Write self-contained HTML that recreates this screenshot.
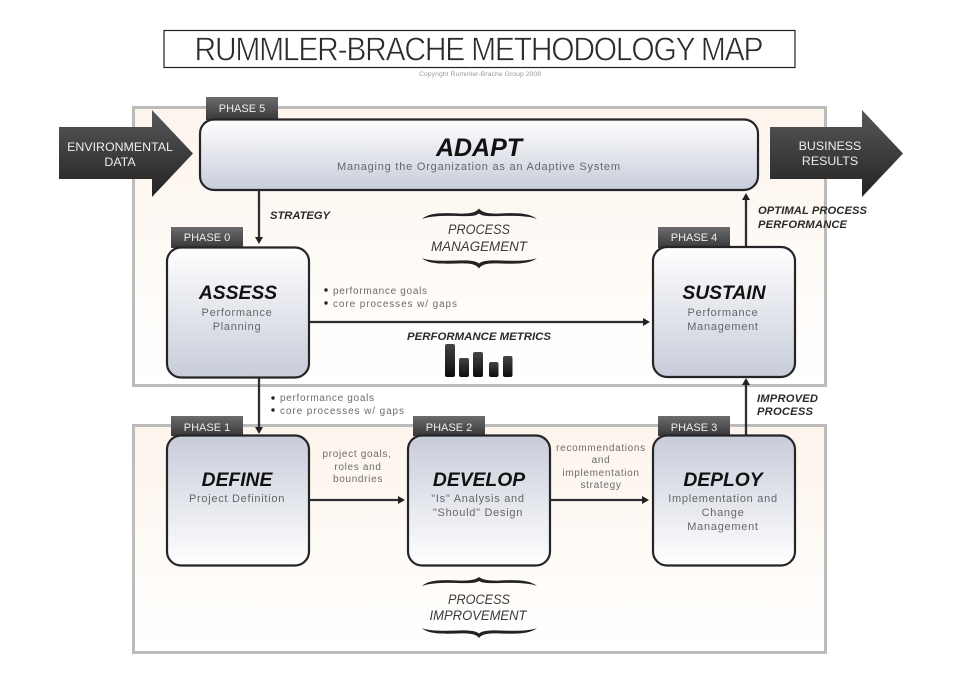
<!DOCTYPE html>
<html><head><meta charset="utf-8"><style>
html,body{margin:0;padding:0;background:#fff}
svg{display:block}
text{font-family:"Liberation Sans",sans-serif}
.sub{font-size:11px;fill:#666668;text-anchor:middle;letter-spacing:.72px}
.head{font-size:19.3px;font-weight:bold;font-style:italic;fill:#111;text-anchor:middle}
.ph{font-size:11px;fill:#eee;text-anchor:middle}
.lab{font-size:11.2px;font-weight:bold;font-style:italic;fill:#2a2a2a}
.note{font-size:10px;fill:#6c6c6c}
.notem{font-size:10px;fill:#6c6c6c;text-anchor:middle;letter-spacing:.68px}
.brace{font-size:13.5px;font-style:italic;fill:#3c3c3c;text-anchor:middle}
.ar{font-size:12.4px;fill:#eee;text-anchor:middle}
</style></head><body>
<svg width="960" height="680" viewBox="0 0 960 680" xmlns="http://www.w3.org/2000/svg">
<defs>
<linearGradient id="up" x1="0" y1="0" x2="0" y2="1"><stop offset="0" stop-color="#ffffff"/><stop offset="1" stop-color="#c7ccd9"/></linearGradient>
<linearGradient id="dn" x1="0" y1="0" x2="0" y2="1"><stop offset="0" stop-color="#c7ccd9"/><stop offset="1" stop-color="#ffffff"/></linearGradient>
<linearGradient id="pan" x1="0" y1="0" x2="0" y2="1"><stop offset="0" stop-color="#fdf4ec"/><stop offset="0.8" stop-color="#fffdfb"/><stop offset="1" stop-color="#ffffff"/></linearGradient>
<linearGradient id="tab" x1="0" y1="0" x2="0" y2="1"><stop offset="0" stop-color="#6c6c6e"/><stop offset="1" stop-color="#38383a"/></linearGradient>
<linearGradient id="arw" x1="0" y1="0" x2="0" y2="1"><stop offset="0" stop-color="#58585a"/><stop offset="1" stop-color="#232324"/></linearGradient>
<linearGradient id="bar" x1="0" y1="0" x2="0" y2="1"><stop offset="0" stop-color="#444446"/><stop offset="1" stop-color="#0c0c0c"/></linearGradient>
</defs>

<rect x="164" y="30.5" width="631" height="37" fill="#fff" stroke="#222" stroke-width="1.2"/>
<text transform="translate(479,60.500) scale(1,1.100)" x="0" y="0" font-size="30" fill="#2c2c2c" stroke="#fff" stroke-width="0.6" text-anchor="middle" textLength="569">RUMMLER-BRACHE METHODOLOGY MAP</text>
<text x="480" y="76" font-size="6.800" fill="#999" text-anchor="middle" textLength="122">Copyright Rummler-Brache Group 2008</text>

<rect x="133.5" y="107.5" width="692" height="278" fill="url(#pan)" stroke="#bcbcbc" stroke-width="3"/>
<rect x="133.5" y="425.5" width="692" height="227" fill="url(#pan)" stroke="#bcbcbc" stroke-width="3"/>

<g fill="url(#tab)">
<rect x="206" y="97" width="72" height="23"/>
<rect x="171" y="227" width="72" height="21"/>
<rect x="658" y="227" width="72" height="21"/>
<rect x="171" y="416" width="72" height="20"/>
<rect x="413" y="416" width="72" height="20"/>
<rect x="658" y="416" width="72" height="20"/>
</g>
<text class="ph" x="242" y="112">PHASE 5</text>
<text class="ph" x="207" y="241">PHASE 0</text>
<text class="ph" x="694" y="241">PHASE 4</text>
<text class="ph" x="207" y="431">PHASE 1</text>
<text class="ph" x="449" y="431">PHASE 2</text>
<text class="ph" x="694" y="431">PHASE 3</text>

<path d="M59 127H152V110L193 153.500L152 197V179H59Z" fill="url(#arw)"/>
<path d="M770 127H862V110L903 153.500L862 197V179H770Z" fill="url(#arw)"/>
<text class="ar" x="120" y="151">ENVIRONMENTAL</text>
<text class="ar" x="120" y="166">DATA</text>
<text class="ar" x="830" y="150">BUSINESS</text>
<text class="ar" x="830" y="165">RESULTS</text>

<g stroke="#2e2e30" stroke-width="2.300" fill="none">
<path d="M259 190V238"/><path d="M259 377V428"/>
<path d="M309 322H644"/>
<path d="M309 500H400"/><path d="M550 500H644"/>
<path d="M746 247V198"/><path d="M746 436V384"/>
</g>
<g fill="#222">
<path d="M255 237H263L259 244Z"/><path d="M255 427H263L259 434Z"/>
<path d="M643 318V326L650 322Z"/>
<path d="M398 496V504L405 500Z"/><path d="M642 496V504L649 500Z"/>
<path d="M742 200H750L746 193Z"/><path d="M742 385H750L746 378Z"/>
</g>

<rect x="200" y="119.500" width="558" height="70.500" rx="14" fill="url(#up)" stroke="#252527" stroke-width="2.200"/>
<rect x="167" y="247.500" width="142" height="130" rx="14" fill="url(#up)" stroke="#252527" stroke-width="2.200"/>
<rect x="653" y="247" width="142" height="130" rx="14" fill="url(#up)" stroke="#252527" stroke-width="2.200"/>
<rect x="167" y="435.500" width="142" height="130" rx="14" fill="url(#dn)" stroke="#252527" stroke-width="2.200"/>
<rect x="408" y="435.500" width="142" height="130" rx="14" fill="url(#dn)" stroke="#252527" stroke-width="2.200"/>
<rect x="653" y="435.500" width="142" height="130" rx="14" fill="url(#dn)" stroke="#252527" stroke-width="2.200"/>

<text x="479" y="156" font-size="25" font-weight="bold" font-style="italic" fill="#111" text-anchor="middle" textLength="86">ADAPT</text>
<text class="sub" style="letter-spacing:0" x="478.500" y="170" textLength="283">Managing the Organization as an Adaptive System</text>

<text class="head" x="238" y="299">ASSESS</text>
<text class="sub" x="237" y="316">Performance</text>
<text class="sub" x="237" y="330">Planning</text>

<text class="head" x="724" y="299">SUSTAIN</text>
<text class="sub" x="723" y="316">Performance</text>
<text class="sub" x="723" y="330">Management</text>

<text class="head" x="237" y="486">DEFINE</text>
<text class="sub" x="237" y="502">Project Definition</text>

<text class="head" x="479" y="486">DEVELOP</text>
<text class="sub" x="478" y="502">"Is" Analysis and</text>
<text class="sub" x="478" y="516">"Should" Design</text>

<text class="head" x="723" y="486">DEPLOY</text>
<text class="sub" x="723" y="502">Implementation and</text>
<text class="sub" x="723" y="516">Change</text>
<text class="sub" x="723" y="530">Management</text>

<text class="lab" x="270" y="219" textLength="60">STRATEGY</text>
<text class="lab" x="758" y="214" textLength="109">OPTIMAL PROCESS</text>
<text class="lab" x="758" y="228" textLength="89">PERFORMANCE</text>
<text class="lab" x="757" y="402" textLength="61">IMPROVED</text>
<text class="lab" x="757" y="415" textLength="56">PROCESS</text>
<text class="lab" x="479" y="340" text-anchor="middle" textLength="144" lengthAdjust="spacingAndGlyphs">PERFORMANCE METRICS</text>

<g fill="#222">
<circle cx="326" cy="290" r="1.700"/><circle cx="326" cy="303" r="1.700"/>
<circle cx="273" cy="398" r="1.700"/><circle cx="273" cy="410" r="1.700"/>
</g>
<text class="note" x="333" y="294" textLength="94">performance goals</text>
<text class="note" x="333" y="307" textLength="124">core processes w/ gaps</text>
<text class="note" x="280" y="401" textLength="94">performance goals</text>
<text class="note" x="280" y="414" textLength="124">core processes w/ gaps</text>

<text class="notem" x="357" y="457">project goals,</text>
<text class="notem" x="358" y="470">roles and</text>
<text class="notem" x="358" y="482">boundries</text>
<text class="notem" x="601" y="451">recommendations</text>
<text class="notem" x="601" y="463">and</text>
<text class="notem" x="601" y="476">implementation</text>
<text class="notem" x="601" y="488">strategy</text>

<g fill="#222">
<path d="M422 219C428 213 442 212.500 458 213.500C470 214 476 212.500 479 208.500C482 212.500 488 214 500 213.500C516 212.500 530 213 537 219C530 216 516 215.500 500 216C488 216.500 482 216 479 213.500C476 216 470 216.500 458 216C442 215.500 430 216 422 219Z"/>
<path d="M422 258C428 261 442 261 458 260.500C470 260 476 261 479 263.500C482 261 488 260 500 260.500C516 261 530 261 537 258C530 264 516 264 500 263.500C488 263 482 264 479 268.500C476 264 470 263 458 263.500C442 264 428 264 422 258Z"/>
<path d="M422 586C428 580 442 579.500 458 580.500C470 581 476 579.500 479 577C482 579.500 488 581 500 580.500C516 579.500 530 580 537 586C530 583 516 582.500 500 583C488 583.500 482 583 479 581C476 583 470 583.500 458 583C442 582.500 430 583 422 586Z"/>
<path d="M422 628C428 631 442 631 458 630.500C470 630 476 631 479 633.500C482 631 488 630 500 630.500C516 631 530 631 537 628C530 634 516 634 500 633.500C488 633 482 634 479 638C476 634 470 633 458 633.500C442 634 428 634 422 628Z"/>
</g>
<text class="brace" x="479" y="234" textLength="62" lengthAdjust="spacingAndGlyphs">PROCESS</text>
<text class="brace" x="479" y="251" textLength="96" lengthAdjust="spacingAndGlyphs">MANAGEMENT</text>
<text class="brace" x="479" y="604" textLength="62" lengthAdjust="spacingAndGlyphs">PROCESS</text>
<text class="brace" x="478" y="620" textLength="97" lengthAdjust="spacingAndGlyphs">IMPROVEMENT</text>

<g fill="url(#bar)">
<rect x="445" y="344" width="10" height="33" rx="2"/>
<rect x="459" y="358" width="10" height="19" rx="2"/>
<rect x="473" y="352" width="10" height="25" rx="2"/>
<rect x="489" y="362" width="9.500" height="15" rx="2"/>
<rect x="503" y="356" width="9.500" height="21" rx="2"/>
</g>
</svg>
</body></html>
